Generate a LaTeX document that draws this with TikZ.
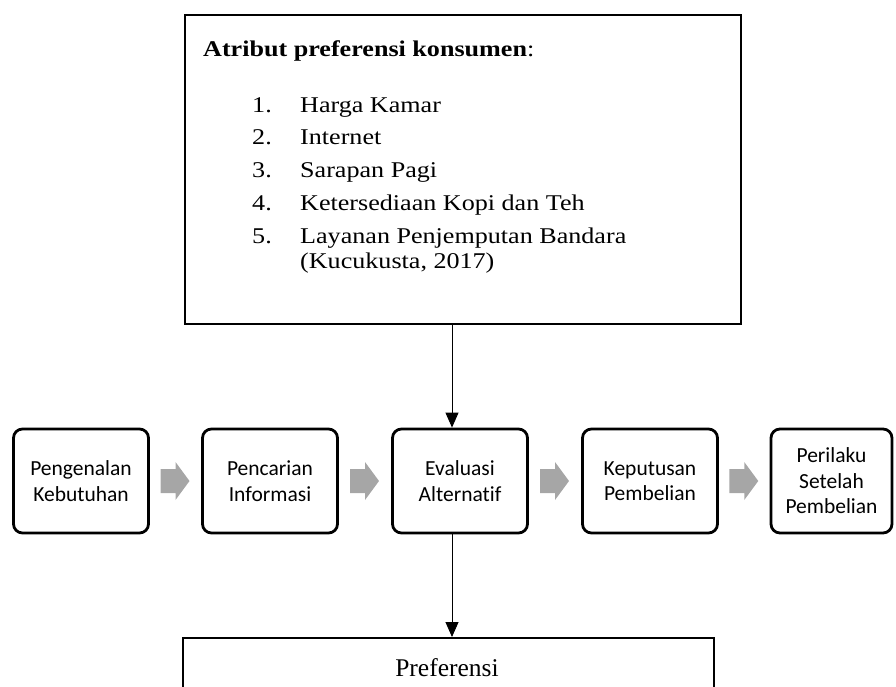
\documentclass[tikz,border=0pt]{standalone}
\usepackage{fontspec}
\setmainfont{Liberation Serif}[FakeStretch=1.16]
\newfontfamily\plainserif{Liberation Serif}
\newfontfamily\calibrifont{Carlito}[Ligatures=NoCommon]
\usetikzlibrary{arrows.meta,calc}
\definecolor{arrgray}{RGB}{166,166,166}
\tikzset{
  procbox/.style={draw, rounded corners=9pt, line width=2.8pt, minimum width=135pt,
    minimum height=104pt, align=center, inner sep=2pt,
    font=\calibrifont\fontsize{21.5}{25.5}\selectfont},
  serif/.style={font=\fontsize{22.5}{26}\selectfont, inner sep=0pt, anchor=base west},
  flow/.style={line width=0.9pt, -{Triangle[width=13pt,length=15pt]}},
  grayarr/.pic={\fill[arrgray] (-15,-12) -- (0,-12) -- (0,-19) -- (14,0) -- (0,19) -- (0,12) -- (-15,12) -- cycle;}
}
\begin{document}
\begin{tikzpicture}[x=1pt,y=-1pt]
\useasboundingbox (0,0) rectangle (896,686);
\clip (0,0) rectangle (896,686);
% top attribute box
\node[draw, line width=1.8pt, minimum width=556pt, minimum height=309pt, anchor=north west, inner sep=0pt] (attr) at (184,14) {};
\node[serif] (title) at (203,56) {\textbf{Atribut preferensi konsumen}:};
\node[serif] (n1) at (252,112) {1.};
\node[serif] (t1) at (300,112) {Harga Kamar};
\node[serif] (n2) at (252,144) {2.};
\node[serif] (t2) at (300,144) {Internet};
\node[serif] (n3) at (252,177) {3.};
\node[serif] (t3) at (300,177) {Sarapan Pagi};
\node[serif] (n4) at (252,210) {4.};
\node[serif] (t4) at (300,210) {Ketersediaan Kopi dan Teh};
\node[serif] (n5) at (252,243) {5.};
\node[serif] (t5) at (300,243) {Layanan Penjemputan Bandara};
\node[serif] (t6) at (300,268) {(Kucukusta, 2017)};
% process boxes
\node[procbox] (b1) at (81,481) {Pengenalan\\Kebutuhan};
\node[procbox] (b2) at (270,481) {Pencarian\\Informasi};
\node[procbox] (b3) at (460,481) {Evaluasi\\Alternatif};
\node[procbox] (b4) at (650,481) {Keputusan\\Pembelian};
\node[procbox, minimum width=121pt] (b5) at (831.5,481) {Perilaku\\Setelah\\Pembelian};
% gray arrows
\coordinate (m12) at ($(b1.east)!0.5!(b2.west)$);
\coordinate (m23) at ($(b2.east)!0.5!(b3.west)$);
\coordinate (m34) at ($(b3.east)!0.5!(b4.west)$);
\coordinate (m45) at ($(b4.east)!0.5!(b5.west)$);
\pic at (m12) {grayarr};
\pic at (m23) {grayarr};
\pic at (m34) {grayarr};
\pic at (m45) {grayarr};
% bottom box
\node[draw, line width=1.8pt, minimum width=531pt, minimum height=100pt, anchor=north west, inner sep=0pt] (pref) at (182,637) {};
\node[font=\plainserif\fontsize{25.5}{30}\selectfont, inner sep=0pt, anchor=base] (preft) at (447,676) {Preferensi};
% vertical connectors
\coordinate (ax) at (452,0);
\draw[flow] (attr.south -| ax) -- (b3.north -| ax);
\draw[flow] (b3.south -| ax) -- (pref.north -| ax);
\end{tikzpicture}
\end{document}
